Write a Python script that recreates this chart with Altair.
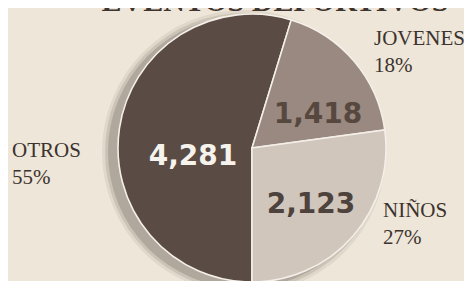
import math
import altair as alt
import pandas as pd

# ---- data ----
categories = ["OTROS", "JOVENES", "NIÑOS"]
values = [4281, 1418, 2123]
value_labels = ["4,281", "1,418", "2,123"]
percent_labels = ["55%", "18%", "27%"]
slice_order = [0, 1, 2]
title_text = "EVENTOS DEPORTIVOS"

colors = ["#5a4c44", "#998980", "#d0c6bc"]

df = pd.DataFrame({
    "category": categories,
    "value": values,
    "value_label": value_labels,
    "label": [f"{c}\n{p}" for c, p in zip(categories, percent_labels)],
    "order": slice_order,
})

CX, CY, R = 244, 140, 134

base = alt.Chart(df)

# soft shadow toward the lower left
shadow_layers = []
for extra, op in [(8, 0.08), (5, 0.12), (2, 0.18)]:
    shadow_layers.append(
        base.transform_filter(alt.datum.category == "OTROS")
        .mark_arc(radius=R + extra, color="#3a302b", opacity=op, theta=0, theta2=2 * math.pi)
        .encode(x=alt.value(CX - 8), y=alt.value(CY + 4))
    )

pie = base.mark_arc(radius=R, stroke="#f4efe8", strokeWidth=1.6).encode(
    theta=alt.Theta("value:Q", stack=True,
                    scale=alt.Scale(range=[math.pi, 3 * math.pi])),
    order=alt.Order("order:Q"),
    color=alt.Color("category:N", scale=alt.Scale(domain=categories, range=colors), legend=None),
    x=alt.value(CX),
    y=alt.value(CY),
)

def num(cat, x, y, color):
    return base.transform_filter(alt.datum.category == cat).mark_text(
        font="DejaVu Sans", fontWeight="bold", fontSize=28, align="center",
        baseline="alphabetic", color=color,
    ).encode(text="value_label:N", x=alt.value(x), y=alt.value(y))

def lab(cat, x, y):
    return base.transform_filter(alt.datum.category == cat).mark_text(
        font="Liberation Serif", fontSize=21, align="left", baseline="alphabetic",
        lineBreak="\n", lineHeight=27, color="#3c332f",
    ).encode(text="label:N", x=alt.value(x), y=alt.value(y))

title = base.transform_filter(alt.datum.category == "OTROS").mark_text(
    text=title_text, font="Liberation Serif", fontWeight="bold", fontSize=30,
    align="center", baseline="alphabetic", color="#3e3430",
).encode(x=alt.value(267), y=alt.value(3))

chart = alt.layer(
    *shadow_layers,
    pie,
    num("OTROS", 185, 157, "#f6f2ec"),
    num("JOVENES", 310, 115, "#57483f"),
    num("NIÑOS", 303, 205, "#4d423c"),
    lab("JOVENES", 366, 37),
    lab("OTROS", 4, 149),
    lab("NIÑOS", 375, 209),
    title,
).properties(
    width=456, height=273,
    autosize=alt.AutoSizeParams(type="none"),
    padding=0,
    background="#eee6d8",
).configure_view(strokeWidth=0)

chart.save("out.html", embed_options={"renderer": "svg", "actions": False})
